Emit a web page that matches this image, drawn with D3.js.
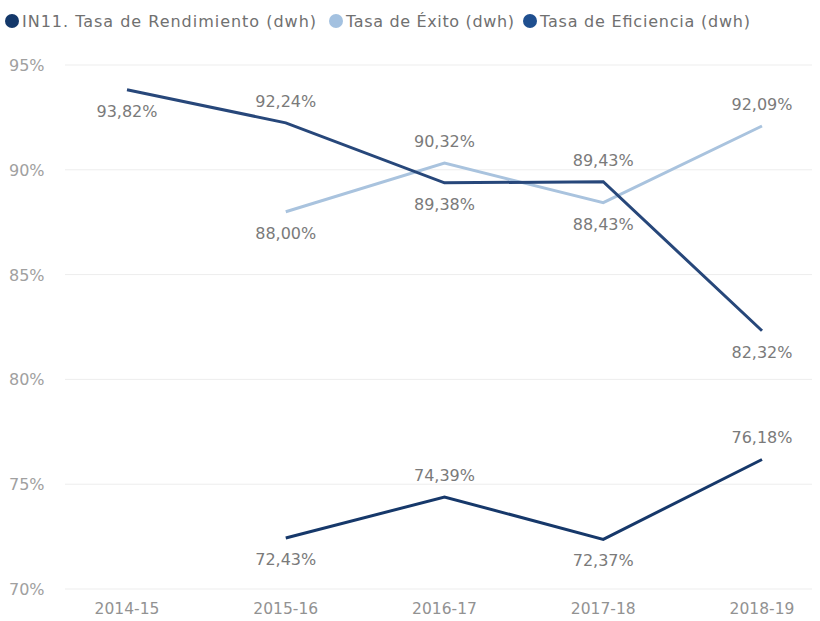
<!DOCTYPE html>
<html>
<head>
<meta charset="utf-8">
<script src="https://cdn.jsdelivr.net/npm/d3@7"></script>
<style>
  body { margin: 0; background: #fff; }
  text { font-family: "DejaVu Sans", sans-serif; }
</style>
</head>
<body>
<div id="chart"></div>
<script>
const width = 820, height = 621;

const years = ["2014-15", "2015-16", "2016-17", "2017-18", "2018-19"];
const rendimiento = [null, 72.43, 74.39, 72.37, 76.18];
const exito = [null, 88.00, 90.32, 88.43, 92.09];
const eficiencia = [93.82, 92.24, 89.38, 89.43, 82.32];
const yTicks = [70, 75, 80, 85, 90, 95];

// which side of the point the label sits on: 1 = below, -1 = above
const rendPos = [0, 1, -1, 1, -1];
const exitoPos = [0, 1, -1, 1, -1];
const efiPos = [1, -1, 1, -1, 1];

const series = [
  {name: "IN11. Tasa de Rendimiento (dwh)", values: rendimiento, pos: rendPos, color: "#16386a", dot: "#14386a"},
  {name: "Tasa de Éxito (dwh)", values: exito, pos: exitoPos, color: "#a9c3de", dot: "#a3c1e0"},
  {name: "Tasa de Eficiencia (dwh)", values: eficiencia, pos: efiPos, color: "#27477a", dot: "#1f4f8f"}
];
const legendX = [12, 336, 530];
const legendW = [294, 168, 210];

const svg = d3.select("#chart").append("svg")
  .attr("width", width)
  .attr("height", height);

const x = d3.scalePoint().domain(years).range([127, 762]);
const y = d3.scaleLinear().domain([70, 95]).range([589, 65]);

// gridlines
svg.append("g").selectAll("line")
  .data(yTicks)
  .enter().append("line")
  .attr("x1", 65).attr("x2", 812)
  .attr("y1", d => y(d)).attr("y2", d => y(d))
  .attr("stroke", "#ededed")
  .attr("stroke-width", 1);

// y labels
svg.append("g").selectAll("text")
  .data(yTicks)
  .enter().append("text")
  .attr("x", 9)
  .attr("y", d => y(d) + 6)
  .attr("font-size", "16px")
  .attr("fill", "#a0a0a0")
  .text(d => d + "%");

// x labels
svg.append("g").selectAll("text")
  .data(years)
  .enter().append("text")
  .attr("x", d => x(d))
  .attr("y", 614)
  .attr("text-anchor", "middle")
  .attr("font-size", "15.5px")
  .attr("fill", "#929292")
  .text(d => d);

const line = d3.line()
  .defined(d => d.v != null)
  .x(d => x(d.year))
  .y(d => y(d.v));

const fmt = v => v.toFixed(2).replace(".", ",") + "%";

// light series first so the dark lines stay on top
[1, 0, 2].forEach(function(si) {
  const s = series[si];
  const pts = years.map((yr, i) => ({year: yr, v: s.values[i], p: s.pos[i]}));
  svg.append("path")
    .datum(pts)
    .attr("d", line)
    .attr("fill", "none")
    .attr("stroke", s.color)
    .attr("stroke-width", 3);
});

series.forEach(function(s) {
  const pts = years.map((yr, i) => ({year: yr, v: s.values[i], p: s.pos[i]}))
    .filter(d => d.v != null);
  svg.append("g").selectAll("text")
    .data(pts)
    .enter().append("text")
    .attr("x", d => x(d.year))
    .attr("y", d => y(d.v) + (d.p > 0 ? 27 : -16))
    .attr("text-anchor", "middle")
    .attr("font-size", "16px")
    .attr("fill", "#7a7a7a")
    .text(d => fmt(d.v));
});

// legend
const legend = svg.append("g");
series.forEach(function(s, i) {
  legend.append("circle")
    .attr("cx", legendX[i])
    .attr("cy", 21)
    .attr("r", 7)
    .attr("fill", s.dot);
  legend.append("text")
    .attr("x", legendX[i] + 10)
    .attr("y", 27)
    .attr("font-family", "'Open Sans', sans-serif")
    .attr("font-size", "16px")
    .attr("fill", "#707070")
    .attr("textLength", legendW[i])
    .attr("lengthAdjust", "spacing")
    .text(s.name);
});
</script>
</body>
</html>
